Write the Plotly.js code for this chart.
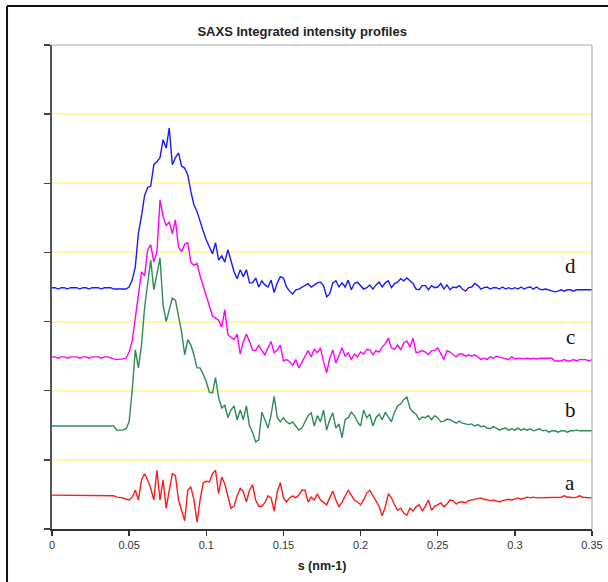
<!DOCTYPE html>
<html>
<head>
<meta charset="utf-8">
<script src="https://cdn.plot.ly/plotly-3.0.1.min.js"></script>
<style>
html,body{margin:0;padding:0;background:#fff;}
#chart{width:608px;height:582px;}
</style>
</head>
<body>
<div id="chart"></div>
<script>
// s (nm-1) sampled from 0 to 0.35 in steps of 0.002
var sStart = 0;
var sStep = 0.002;

var curveD = [
3.49,3.49,3.47,3.49,3.49,3.47,3.49,3.49,3.49,3.47,3.49,3.49,3.47,3.49,3.49,3.49,3.47,3.49,3.49,3.49,3.47,3.47,3.46,3.46,3.47,
3.50,3.60,3.79,4.28,4.53,4.82,4.94,4.96,5.27,5.31,
5.37,5.63,5.51,5.80,5.27,5.37,5.44,5.25,5.22,5.12,
4.88,4.69,4.59,4.44,4.31,4.18,4.08,3.98,4.14,3.89,
3.95,3.86,4.04,3.86,3.72,3.62,3.75,3.65,3.75,3.56,
3.56,3.63,3.50,3.59,3.53,3.50,3.60,3.42,3.56,3.65,
3.63,3.50,3.44,3.40,3.46,3.47,3.50,3.53,3.55,3.50,
3.53,3.56,3.57,3.52,3.36,3.40,3.56,3.59,3.50,3.56,
3.50,3.60,3.46,3.55,3.57,3.52,3.47,3.49,3.53,3.47,
3.53,3.57,3.50,3.56,3.59,3.49,3.55,3.57,3.62,3.59,
3.63,3.59,3.55,3.47,3.46,3.52,3.52,3.46,3.52,3.49,
3.50,3.55,3.47,3.53,3.46,3.50,3.49,3.52,3.47,3.44,
3.49,3.50,3.55,3.52,3.47,3.49,3.50,3.47,3.49,3.49,
3.47,3.50,3.47,3.49,3.47,3.49,3.47,3.50,3.47,3.49,
3.50,3.47,3.50,3.47,3.46,3.47,3.46,3.44,3.43,3.44,
3.46,3.44,3.46,3.46,3.44,3.46,3.46,3.47,3.46,3.46,3.46
];

var curveC = [
2.49,2.49,2.47,2.49,2.49,2.47,2.49,2.49,2.49,2.47,2.49,2.49,2.47,2.49,2.49,2.49,2.47,2.49,2.49,2.47,2.46,2.45,2.45,2.46,2.47,
2.56,2.72,3.05,3.31,3.72,3.66,4.04,4.11,3.86,4.01,
4.76,4.52,4.39,4.44,4.27,4.47,4.08,4.01,4.12,4.14,
3.86,3.81,3.84,3.66,3.50,3.37,3.23,3.08,3.05,3.02,
2.92,3.17,2.81,2.78,2.74,2.82,2.53,2.71,2.82,2.71,
2.59,2.58,2.66,2.58,2.52,2.62,2.71,2.55,2.59,2.66,
2.43,2.45,2.42,2.37,2.45,2.33,2.42,2.50,2.58,2.49,
2.60,2.55,2.62,2.42,2.26,2.47,2.59,2.40,2.52,2.62,
2.50,2.55,2.45,2.53,2.49,2.56,2.53,2.60,2.59,2.52,
2.58,2.56,2.63,2.68,2.76,2.62,2.60,2.66,2.59,2.69,
2.72,2.63,2.76,2.55,2.56,2.58,2.56,2.52,2.58,2.58,
2.62,2.53,2.45,2.58,2.56,2.52,2.49,2.53,2.53,2.50,
2.52,2.50,2.52,2.49,2.45,2.47,2.45,2.49,2.47,2.50,
2.49,2.47,2.47,2.45,2.49,2.46,2.47,2.46,2.46,2.47,
2.46,2.47,2.46,2.47,2.47,2.46,2.46,2.47,2.43,2.43,
2.43,2.45,2.43,2.43,2.45,2.43,2.45,2.45,2.45,2.43,2.45
];

var curveB = [
1.49,1.49,1.48,1.49,1.49,1.48,1.49,1.49,1.49,1.48,1.49,1.49,1.48,1.49,1.49,1.49,1.48,1.49,1.49,1.49,1.49,1.43,1.43,1.43,1.45,
1.55,2.01,2.59,2.33,2.66,3.20,3.53,3.89,3.46,3.72,
3.92,3.24,3.00,3.17,3.34,3.31,3.08,2.85,2.52,2.74,
2.66,2.52,2.33,2.33,2.24,2.13,1.98,1.97,2.19,1.90,
1.75,1.79,1.61,1.72,1.78,1.58,1.72,1.58,1.78,1.49,
1.40,1.26,1.29,1.69,1.58,1.46,1.65,1.92,1.61,1.55,
1.61,1.55,1.52,1.55,1.49,1.43,1.46,1.55,1.64,1.68,
1.49,1.64,1.55,1.72,1.43,1.58,1.68,1.46,1.52,1.32,
1.58,1.61,1.69,1.64,1.55,1.49,1.72,1.61,1.66,1.49,
1.61,1.66,1.58,1.69,1.61,1.55,1.69,1.78,1.81,1.87,
1.91,1.75,1.69,1.66,1.58,1.62,1.61,1.64,1.58,1.64,
1.61,1.55,1.56,1.59,1.58,1.56,1.53,1.56,1.53,1.52,
1.51,1.52,1.49,1.51,1.48,1.49,1.46,1.45,1.48,1.46,
1.43,1.45,1.46,1.43,1.45,1.43,1.46,1.43,1.45,1.43,
1.45,1.42,1.43,1.45,1.42,1.43,1.40,1.42,1.42,1.40,
1.42,1.42,1.40,1.42,1.42,1.43,1.42,1.42,1.43,1.42,1.42
];

var curveA = [
0.49,0.49,0.48,0.49,0.49,0.48,0.49,0.49,0.49,0.48,0.49,0.49,0.48,0.49,0.49,0.49,0.48,0.49,0.49,0.48,0.48,0.46,0.46,0.45,0.43,
0.42,0.46,0.56,0.42,0.71,0.80,0.71,0.59,0.42,0.85,
0.42,0.71,0.30,0.56,0.80,0.77,0.42,0.27,0.12,0.56,
0.61,0.42,0.10,0.42,0.67,0.69,0.68,0.80,0.85,0.51,
0.75,0.65,0.46,0.30,0.33,0.48,0.59,0.54,0.39,0.56,
0.64,0.42,0.33,0.33,0.38,0.48,0.45,0.26,0.54,0.67,
0.45,0.39,0.45,0.48,0.45,0.49,0.56,0.56,0.39,0.46,
0.42,0.51,0.42,0.38,0.35,0.45,0.55,0.42,0.32,0.39,
0.48,0.56,0.49,0.42,0.39,0.35,0.42,0.52,0.56,0.48,
0.39,0.33,0.19,0.32,0.51,0.45,0.35,0.27,0.30,0.23,
0.20,0.30,0.26,0.32,0.35,0.26,0.33,0.42,0.27,0.33,
0.35,0.38,0.32,0.36,0.42,0.41,0.36,0.39,0.39,0.38,
0.41,0.42,0.42,0.43,0.45,0.43,0.42,0.41,0.42,0.41,
0.39,0.41,0.42,0.43,0.42,0.43,0.45,0.43,0.45,0.46,
0.45,0.46,0.45,0.45,0.46,0.45,0.46,0.46,0.45,0.46,
0.46,0.48,0.46,0.46,0.45,0.46,0.48,0.46,0.46,0.45,0.45
];

var curveNames = ["a", "b", "c", "d"];
var curveLabelY = [0.67, 1.72, 2.78, 3.81];
var xTickVals = [0, 0.05, 0.1, 0.15, 0.2, 0.25, 0.3, 0.35];
var xTickText = ["0", "0.05", "0.1", "0.15", "0.2", "0.25", "0.3", "0.35"];
var yTickVals = [0, 1, 2, 3, 4, 5, 6, 7];

var series = [curveA, curveB, curveC, curveD];
var colors = ["#ff1a1a", "#2e8b57", "#ff00ff", "#1a1aff"];

var traces = series.map(function (ys, i) {
  return {
    type: "scatter",
    mode: "lines",
    x0: sStart,
    dx: sStep,
    y: ys,
    name: curveNames[i],
    line: {color: colors[i], width: 1.4},
    hoverinfo: "skip"
  };
});

var annotations = curveNames.map(function (n, i) {
  return {
    x: 0.336, y: curveLabelY[i], xref: "x", yref: "y",
    text: n, showarrow: false,
    font: {family: "Liberation Serif, Times New Roman, serif", size: 21, color: "#111"},
    xanchor: "center", yanchor: "middle"
  };
});

var layout = {
  width: 608,
  height: 582,
  margin: {l: 52, r: 16, t: 45, b: 53},
  paper_bgcolor: "#ffffff",
  plot_bgcolor: "#ffffff",
  showlegend: false,
  font: {family: "Liberation Sans, Arial, sans-serif", color: "#222"},
  title: {
    text: "<b>SAXS Integrated intensity profiles</b>",
    font: {size: 13, color: "#222"},
    x: 0.497, xref: "container", xanchor: "center",
    y: 0.946, yref: "container", yanchor: "middle"
  },
  xaxis: {
    range: [0, 0.35],
    tickvals: xTickVals,
    ticktext: xTickText,
    ticks: "outside",
    ticklen: 5,
    tickwidth: 1.3,
    tickcolor: "#333",
    showline: true,
    linecolor: "#333",
    linewidth: 1.5,
    showgrid: false,
    zeroline: false,
    tickfont: {size: 11, color: "#333"},
    title: {text: "<b>s (nm-1)</b>", font: {size: 12.5, color: "#222"}, standoff: 11}
  },
  yaxis: {
    range: [0, 7],
    tickvals: yTickVals,
    showticklabels: false,
    ticks: "outside",
    ticklen: 6,
    tickwidth: 1.5,
    tickcolor: "#444",
    showline: true,
    linecolor: "#555",
    linewidth: 2,
    showgrid: true,
    gridcolor: "#fff9a8",
    gridwidth: 2,
    zeroline: false
  },
  annotations: annotations,
  shapes: [
    {type: "line", xref: "paper", yref: "paper", x0: 0, x1: 1, y0: 1, y1: 1, line: {color: "#b0b0b0", width: 1.2}},
    {type: "line", xref: "paper", yref: "paper", x0: 1, x1: 1, y0: 0, y1: 1, line: {color: "#b0b0b0", width: 1.2}},
    {type: "line", xref: "paper", yref: "paper", x0: -0.0833, x1: -0.0833, y0: -0.2, y1: 1.0806, line: {color: "#111", width: 2}},
    {type: "line", xref: "paper", yref: "paper", x0: -0.0833, x1: 1.2, y0: 1.0806, y1: 1.0806, line: {color: "#111", width: 2}}
  ]
};

Plotly.newPlot("chart", traces, layout, {displayModeBar: false, staticPlot: true});
</script>
</body>
</html>
